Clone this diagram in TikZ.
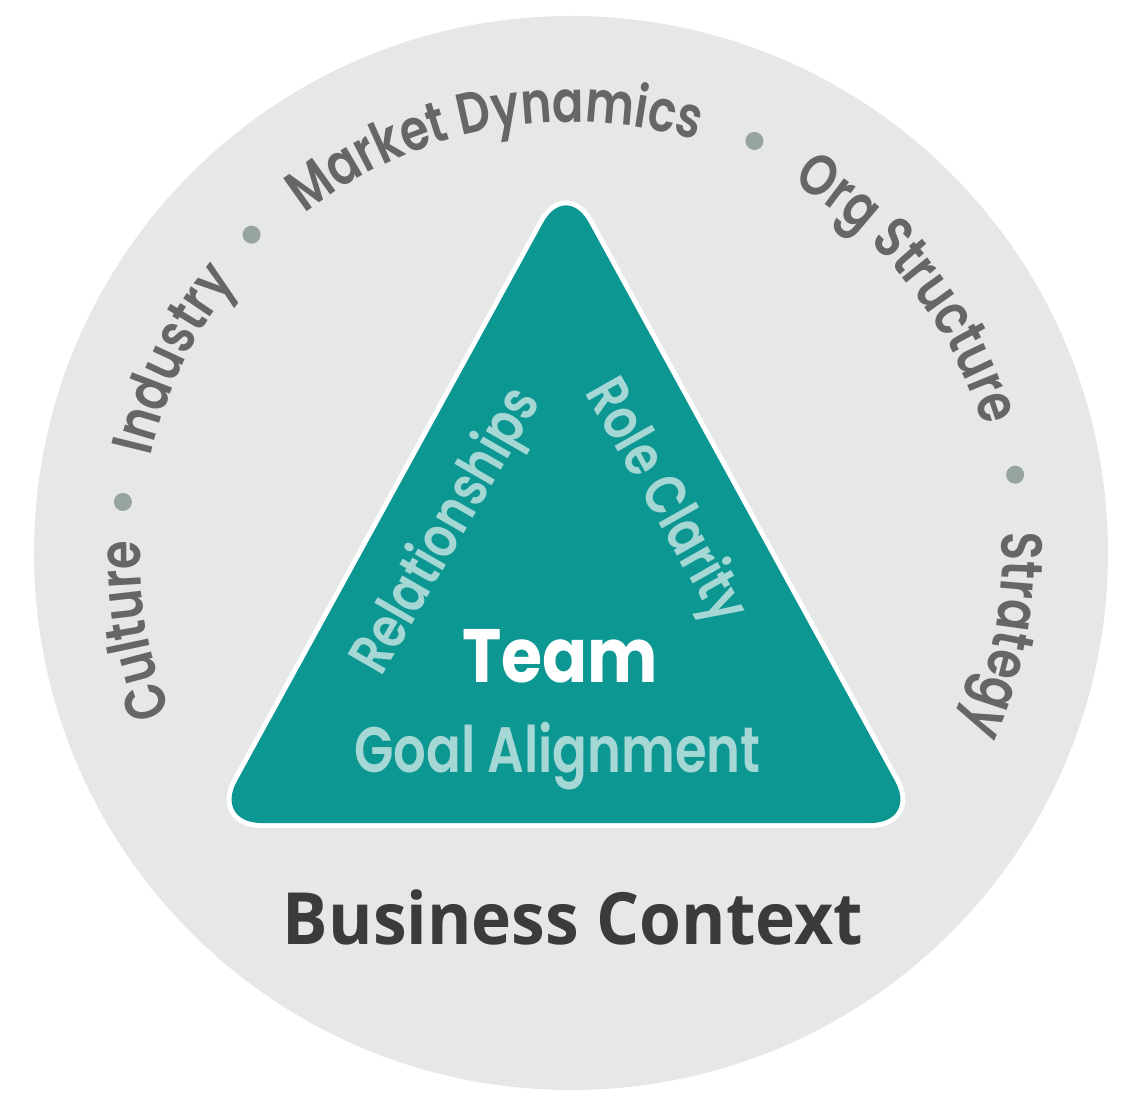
\documentclass[tikz,border=0pt]{standalone}
\usepackage{fontspec}
\usepackage{xcolor}
\usetikzlibrary{decorations.text}
\newfontfamily\ringfont{Poppins SemiBold}[FakeStretch=0.8]
\newfontfamily\teamfont{Poppins Bold}[FakeStretch=0.88]
\newfontfamily\ctxfont{Open Sans Bold}[FakeStretch=0.94]
\newcommand\ringstyle{\ringfont\fontsize{33}{40}\selectfont}
\definecolor{ringgrey}{HTML}{E6E7E7}
\definecolor{wordgrey}{HTML}{666666}
\definecolor{dotgrey}{HTML}{97A3A1}
\definecolor{teamteal}{HTML}{0C9793}
\definecolor{paleteal}{HTML}{A5D7D5}
\definecolor{ctxgrey}{HTML}{3B3B3B}

\begin{document}
\begin{tikzpicture}[
		ringword/.style={decorate, decoration={text along path, text align=center, text color=wordgrey, text={|\ringstyle|#1}}},
		side/.style={text=paleteal, font=\ringfont\fontsize{33}{40}\selectfont, inner sep=0pt}]
		\useasboundingbox(-11.42,-11.06) rectangle (11.28,11.06);
		\fill[ringgrey](0,0) circle (10.74);
		\path[ringword=Culture](220:8.62) arc[start angle=220, end angle=160, radius=8.62];
		\path[ringword=Industry](184:8.62) arc[start angle=184, end angle=124, radius=8.62];
		\path[ringword=Market Dynamics](140.6:8.62) arc[start angle=140.6, end angle=60.6, radius=8.62];
		\path[ringword=Org Structure](78.1:8.62) arc[start angle=78.1, end angle=-1.9, radius=8.62];
		\path[ringword=Strategy](19.3:8.62) arc[start angle=19.3, end angle=-40.7, radius=8.62];
		\foreach \ang in {173.5,135.1,66,10}
			\fill[dotgrey](\ang:9.02) circle (0.18);
		\coordinate (apex) at (-0.1,7.44);
		\coordinate (lc) at (-7.14,-5.4);
		\coordinate (rc) at (6.94,-5.4);
		\coordinate (bm) at (-0.1,-5.4);
		\path[fill=teamteal, preaction={draw=white, line width=0.2cm}, rounded corners=0.95cm]
			(bm)--(rc)--(apex)--(lc)--cycle;
		\node[side, rotate=60] (rel) at (-2.46,0.42) {Relationships};
		\node[side, rotate=-60.5] (role) at (1.86,1.02) {Role Clarity};
		\node[anchor=base, text=white, font=\teamfont\fontsize{43}{50}\selectfont] (team) at (-0.22,-2.58) {Team};
		\node[side, anchor=base, font=\ringfont\fontsize{36.5}{44}\selectfont] (goal) at (-0.27,-4.38) {Goal Alignment};
		\node[anchor=base, text=ctxgrey, font=\ctxfont\fontsize{41}{48}\selectfont] (ctx) at (0.04,-7.82) {Business Context};
		\end{tikzpicture}
\end{document}
